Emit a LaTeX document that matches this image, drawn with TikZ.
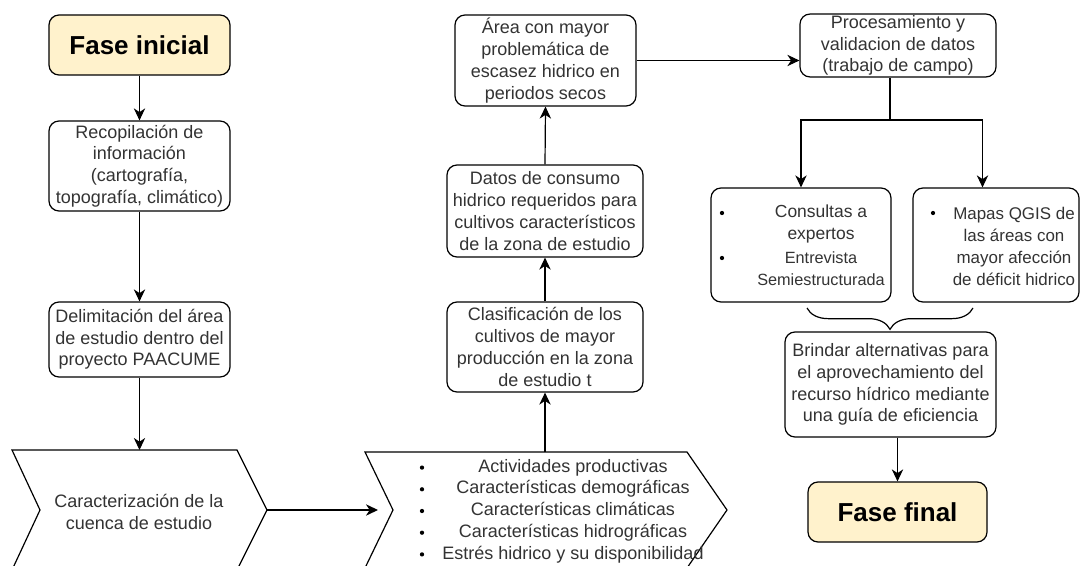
\documentclass[tikz,border=0pt]{standalone}
\usepackage{fontspec}
\setmainfont{Liberation Sans}
\usetikzlibrary{arrows.meta,decorations.pathreplacing,calc}
\definecolor{phase}{HTML}{FFF2CC}
\definecolor{txt}{HTML}{333333}
\tikzset{
  box/.style={draw, rounded corners=7.5pt, line width=0.9pt, align=center, text=txt,
    font=\fontsize{13.5}{16.3}\selectfont, inner sep=1pt},
  phasebox/.style={box, fill=phase, text=black, font=\fontsize{19.5}{23}\selectfont\bfseries},
  arr/.style={line width=0.9pt, -{Stealth[length=9pt,width=8.5pt,inset=2.8pt]}},
  ln/.style={line width=0.9pt},
  lbl/.style={text=txt, align=center, font=\fontsize{13.5}{16.3}\selectfont, inner sep=0pt},
}
\begin{document}
\begin{tikzpicture}[x=0.75pt,y=-0.75pt]
\useasboundingbox (0,0) rectangle (1081,566);
\clip (0,0) rectangle (1081,566);
\fill[white] (0,0) rectangle (1081,566);

% left column
\node[phasebox, minimum width=135.75pt, minimum height=45pt] (fi) at (139.5,45) {Fase inicial};
\node[box, minimum width=135.75pt, minimum height=67.5pt] (rec) at (139.5,166)
  {Recopilación de\\información\\(cartografía,\\topografía, climático)};
\node[box, minimum width=135.75pt, minimum height=56.25pt] (del) at (139.5,339.5)
  {Delimitación del área\\de estudio dentro del\\proyecto PAACUME};

% chevron 1
\draw[ln] (12,450) -- (237,450) -- (267,510) -- (237,570) -- (12,570) -- (40,510) -- cycle;
\node[lbl] (car) at (139,512) {Caracterización de la\\cuenca de estudio};
\coordinate (c1top) at (139.5,450);
\coordinate (c1tip) at (267,510);

% chevron 2
\draw[ln] (365,452) -- (687,452) -- (727,510) -- (687,568) -- (365,568) -- (393,510) -- cycle;
\coordinate (c2in) at (378,510);
\coordinate (c2top) at (545,452);
\node[lbl] (list) at (573,511) {Actividades productivas\\Características demográficas\\Características climáticas\\Características hidrográficas\\Estrés hidrico y su disponibilidad};
\foreach \yy in {467.6,489.3,511,532.7,554.4}
  \fill (422,\yy) circle (1.6pt);

% middle column
\node[box, minimum width=147pt, minimum height=67.5pt] (clas) at (545,347)
  {Clasificación de los\\cultivos de mayor\\producción en la zona\\de estudio t};
\node[box, minimum width=147pt, minimum height=69pt] (datos) at (545,211)
  {Datos de consumo\\hidrico requeridos para\\cultivos característicos\\de la zona de estudio};
\node[box, minimum width=135.75pt, minimum height=68.25pt] (area) at (545.5,60.5)
  {Área con mayor\\problemática de\\escasez hidrico en\\periodos secos};

% right column
\node[box, minimum width=147pt, minimum height=45.75pt] (proc) at (898,45.5)
  {Procesamiento y\\validacion de datos\\(trabajo de campo)};
\node[box, minimum width=135pt, minimum height=85.5pt] (cons) at (801,245) {};
\node[lbl, font=\fontsize{13.1}{16.3}\selectfont] (cons1) at (821,224) {Consultas a\\expertos};
\node[lbl, font=\fontsize{12.2}{16.3}\selectfont] (cons2) at (821,268.5) {Entrevista\\Semiestructurada};
\fill (722,213) circle (1.6pt);
\fill (722,258) circle (1.6pt);
\node[box, minimum width=124.5pt, minimum height=85.5pt] (map) at (996,245) {};
\node[lbl, font=\fontsize{12.7}{16.6}\selectfont] (map1) at (1014,246.5) {Mapas QGIS de\\las áreas con\\mayor afección\\de déficit hidrico};
\fill (933,213) circle (1.6pt);

\draw[ln, decorate, decoration={brace, amplitude=16pt}] (973,308) -- (807,308);

\node[box, minimum width=158.25pt, minimum height=78.75pt] (brin) at (890.5,384.5)
  {Brindar alternativas para\\el aprovechamiento del\\recurso hídrico mediante\\una guía de eficiencia};
\node[phasebox, minimum width=134.25pt, minimum height=45pt] (ff) at (897.5,512) {Fase final};

% connectors
\draw[arr] (fi.south) -- (rec.north);
\draw[arr] (rec.south) -- (del.north);
\draw[arr] (del.south) -- (c1top);
\draw[arr] (c1tip) -- (c2in);
\draw[arr] (c2top) -- (clas.south);
\draw[arr] (clas.north) -- (datos.south);
\draw[arr] (datos.north) -- (area.south);
\draw[arr] (area.east) -- (area.east -| proc.west);
\coordinate (split) at (890,120);
\draw[ln] (proc.south -| split) -- (split);
\draw[arr] (split) -| (cons.north);
\draw[arr] (split) -| ($(map.north)+(-13.5,0)$);
\draw[arr] (brin.south -| ff.north) -- (ff.north);
\end{tikzpicture}
\end{document}
